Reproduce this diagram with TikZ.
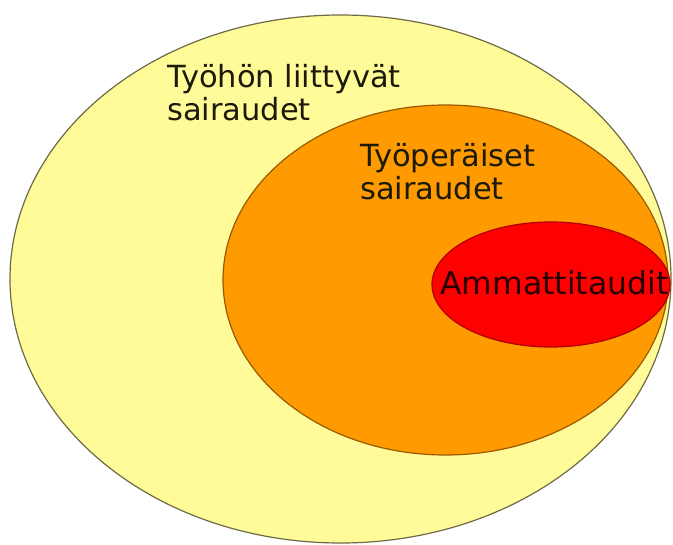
\documentclass[tikz,border=0pt]{standalone}
\usepackage{fontspec}
\setmainfont{DejaVu Sans}
\usetikzlibrary{shapes.geometric}
\definecolor{paleyellow}{HTML}{FFFB99}
\definecolor{rimolive}{HTML}{6E6A45}
\definecolor{deeporange}{HTML}{FF9A00}
\definecolor{rimbrown}{HTML}{9A5A00}
\definecolor{brightred}{HTML}{FF0000}
\definecolor{rimred}{HTML}{B00000}
\definecolor{inkdark}{HTML}{1C1A08}
\tikzset{
  x=1pt, y=-1pt,
  region/.style={ellipse, inner sep=0pt, line width=1.2pt},
  caption/.style={anchor=base west, inner sep=0pt, align=left,
    text=inkdark, font=\fontsize{30.5}{33}\selectfont},
}
\begin{document}
\begin{tikzpicture}
  \useasboundingbox (0,0) rectangle (673,545);
  % nested sets of diseases
  \node[region, draw=rimolive, fill=paleyellow,
        minimum width=661pt, minimum height=528pt] (outer) at (340.5,279) {};
  \node[region, draw=rimbrown, fill=deeporange,
        minimum width=445pt, minimum height=350pt] (middle) at (445.5,280) {};
  \node[region, draw=rimred, fill=brightred,
        minimum width=238pt, minimum height=125pt] (inner) at (551,284.5) {};
  % labels (the base anchor sits on the last line)
  \node[caption] (outerlabel) at (167,121) {Työhön liittyvät\\sairaudet};
  \node[caption] (middlelabel) at (360,200) {Työperäiset\\sairaudet};
  \node[caption, text=black!85!red, font=\fontsize{31.5}{33}\selectfont]
    (innerlabel) at (440,295) {Ammattitaudit};
\end{tikzpicture}
\end{document}
